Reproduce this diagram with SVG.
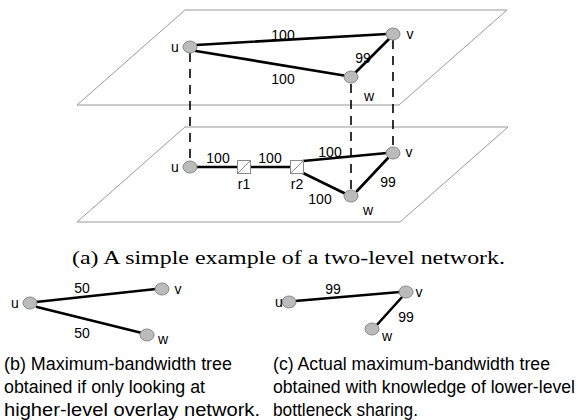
<svg xmlns="http://www.w3.org/2000/svg" width="578" height="420" viewBox="0 0 578 420">
<style>
.plane{fill:none;stroke:#999;stroke-width:1}
.edge{stroke:#000;stroke-width:2.6;stroke-linecap:round}
.dash{stroke:#000;stroke-width:1.6;stroke-dasharray:9,7}
.node{fill:#bbb;stroke:#888;stroke-width:1}
.rt{fill:#fff;stroke:#888;stroke-width:1}
.lbl{font-family:"Liberation Sans",Arial,sans-serif;font-size:14px;fill:#000}
.cap{font-family:"Liberation Sans",Arial,sans-serif;font-size:17.5px;fill:#000}
.capa{font-family:"Liberation Serif","Times New Roman",serif;font-size:18px;fill:#000}
</style>
<rect width="578" height="420" fill="#fff"/>
<g id="planes">
<polygon class="plane" points="185,10 507,10 399,105 77,105"/>
<polygon class="plane" points="185,127 508,127 400,222 77,222"/>
</g>
<g id="connectors">
<line class="dash" x1="190" y1="53" x2="190" y2="161"/>
<line class="dash" x1="351" y1="84" x2="351" y2="190"/>
<line class="dash" x1="393" y1="40" x2="393" y2="147"/>
<line class="edge" x1="196" y1="45" x2="387" y2="34"/>
<line class="edge" x1="196" y1="51" x2="347" y2="76"/>
<line class="edge" x1="354" y1="74" x2="390" y2="38"/>
<line class="edge" x1="196" y1="167" x2="238" y2="167"/>
<line class="edge" x1="251" y1="167" x2="291" y2="167"/>
<line class="edge" x1="303" y1="161" x2="387" y2="153"/>
<line class="edge" x1="303" y1="173" x2="346" y2="194"/>
<line class="edge" x1="357" y1="191" x2="388" y2="158"/>
<line class="edge" x1="36" y1="302" x2="156" y2="289"/>
<line class="edge" x1="37" y1="307" x2="142" y2="333"/>
<line class="edge" x1="295" y1="301" x2="400" y2="292"/>
<line class="edge" x1="403" y1="296" x2="375" y2="327"/>
</g>
<g id="edge-labels" class="lbl">
<text x="283" y="40" text-anchor="middle">100</text>
<text x="283" y="84" text-anchor="middle">100</text>
<text x="363" y="63" text-anchor="middle">99</text>
<text x="218" y="163" text-anchor="middle">100</text>
<text x="270" y="163" text-anchor="middle">100</text>
<text x="330" y="157" text-anchor="middle">100</text>
<text x="320" y="204" text-anchor="middle">100</text>
<text x="388" y="187" text-anchor="middle">99</text>
<text x="82" y="293" text-anchor="middle">50</text>
<text x="82" y="338" text-anchor="middle">50</text>
<text x="333" y="294" text-anchor="middle">99</text>
<text x="406" y="322" text-anchor="middle">99</text>
</g>
<g id="u-top"><ellipse class="node" cx="190" cy="47" rx="7" ry="6"/><text class="lbl" x="175" y="52" text-anchor="middle">u</text></g>
<g id="v-top"><ellipse class="node" cx="393" cy="34" rx="7" ry="6"/><text class="lbl" x="410" y="39" text-anchor="middle">v</text></g>
<g id="w-top"><ellipse class="node" cx="351" cy="77" rx="7" ry="6"/><text class="lbl" x="369" y="101" text-anchor="middle">w</text></g>
<g id="u-low"><ellipse class="node" cx="190" cy="167" rx="7" ry="6"/><text class="lbl" x="175" y="172" text-anchor="middle">u</text></g>
<g id="r1"><rect class="rt" x="237.5" y="160.5" width="13" height="13"/><line x1="237.5" y1="173.5" x2="250.5" y2="160.5" stroke="#888" stroke-width="1"/><text class="lbl" x="244" y="189" text-anchor="middle">r1</text></g>
<g id="r2"><rect class="rt" x="290.5" y="160.5" width="13" height="13"/><line x1="290.5" y1="173.5" x2="303.5" y2="160.5" stroke="#888" stroke-width="1"/><text class="lbl" x="297" y="189" text-anchor="middle">r2</text></g>
<g id="v-low"><ellipse class="node" cx="393" cy="153" rx="7" ry="6"/><text class="lbl" x="409" y="157" text-anchor="middle">v</text></g>
<g id="w-low"><ellipse class="node" cx="351" cy="196" rx="7" ry="6"/><text class="lbl" x="368" y="215" text-anchor="middle">w</text></g>
<text class="capa" x="72" y="264" textLength="433" lengthAdjust="spacingAndGlyphs">(a) A simple example of a two-level network.</text>
<g id="b-u"><ellipse class="node" cx="30" cy="303" rx="7" ry="6"/><text class="lbl" x="15" y="308" text-anchor="middle">u</text></g>
<g id="b-v"><ellipse class="node" cx="162" cy="289" rx="7" ry="6"/><text class="lbl" x="178" y="294" text-anchor="middle">v</text></g>
<g id="b-w"><ellipse class="node" cx="147" cy="335" rx="7" ry="6"/><text class="lbl" x="163" y="344" text-anchor="middle">w</text></g>
<g id="c-u"><ellipse class="node" cx="289" cy="302" rx="7" ry="6"/><text class="lbl" x="279" y="307" text-anchor="middle">u</text></g>
<g id="c-v"><ellipse class="node" cx="406" cy="292" rx="7" ry="6"/><text class="lbl" x="419" y="297" text-anchor="middle">v</text></g>
<g id="c-w"><ellipse class="node" cx="372" cy="329" rx="7" ry="6"/><text class="lbl" x="387" y="341" text-anchor="middle">w</text></g>
<g class="cap">
<text x="4" y="370" textLength="228" lengthAdjust="spacingAndGlyphs">(b) Maximum-bandwidth tree</text>
<text x="4" y="393" textLength="201" lengthAdjust="spacingAndGlyphs">obtained if only looking at</text>
<text x="4" y="416" textLength="256" lengthAdjust="spacingAndGlyphs">higher-level overlay network.</text>
<text x="273" y="370" textLength="277" lengthAdjust="spacingAndGlyphs">(c) Actual maximum-bandwidth tree</text>
<text x="273" y="393" textLength="302" lengthAdjust="spacingAndGlyphs">obtained with knowledge of lower-level</text>
<text x="273" y="416" textLength="145" lengthAdjust="spacingAndGlyphs">bottleneck sharing.</text>
</g>
</svg>
